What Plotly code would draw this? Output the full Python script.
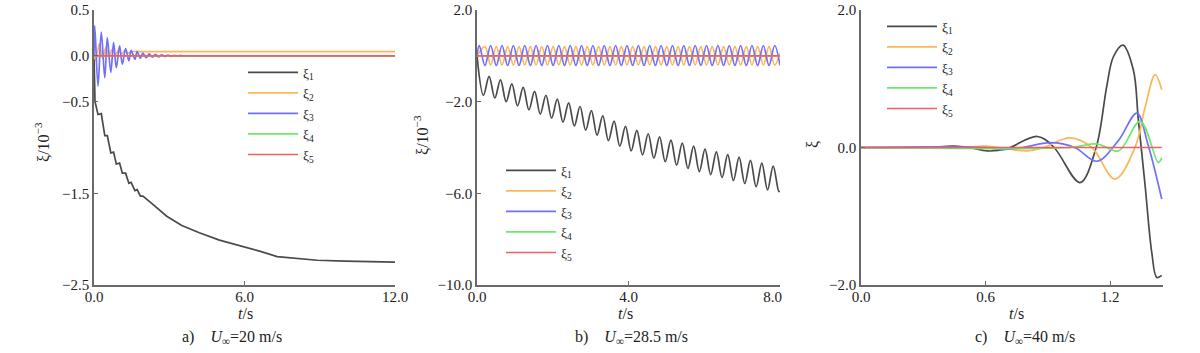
import plotly.graph_objects as go

# ---------------- data: panel a (U=20 m/s) ----------------
a_xi1_t = [0, 0.04, 0.16, 0.29, 0.43, 0.53, 0.67, 0.78, 0.89, 1.02, 1.13, 1.26, 1.39, 1.48,
           1.63, 1.72, 1.85, 1.95, 2.3, 2.9, 3.5, 4.2, 5.0, 6.0, 6.6, 7.3, 8.0, 8.9, 10.0, 11.0, 12.0]
a_xi1_v = [0, -0.50, -0.64, -0.63, -0.87, -0.87, -1.06, -1.05, -1.18, -1.17, -1.28, -1.28, -1.39, -1.38,
           -1.47, -1.46, -1.53, -1.53, -1.61, -1.75, -1.85, -1.93, -2.01, -2.08, -2.13, -2.19, -2.21,
           -2.23, -2.24, -2.245, -2.25]
a_xi2_t = [0, 0.08, 0.21, 0.35, 0.47, 0.60, 0.72, 0.85, 0.97, 1.10, 1.22, 1.35, 1.60, 2.0, 3.0, 12.0]
a_xi2_v = [0, -0.05, 0.13, -0.03, 0.09, 0.0, 0.07, 0.01, 0.06, 0.02, 0.055, 0.03, 0.047, 0.045, 0.045, 0.045]
a_xi3_t = [0, 0.03, 0.16, 0.29, 0.43, 0.53, 0.67, 0.78, 0.89, 1.02, 1.13, 1.26, 1.39, 1.48, 1.63, 1.72,
           1.85, 1.95, 2.08, 2.20, 2.33, 2.45, 2.58, 2.70, 2.83, 2.95, 3.08, 3.20, 3.33, 3.45, 3.60, 4.0, 12.0]
a_xi3_v = [0, 0.33, -0.33, 0.26, -0.24, 0.196, -0.18, 0.147, -0.13, 0.11, -0.09, 0.08, -0.055, 0.06,
           -0.037, 0.045, -0.026, 0.03, -0.02, 0.022, -0.015, 0.016, -0.011, 0.012, -0.008, 0.009,
           -0.006, 0.006, -0.004, 0.004, -0.002, 0, 0]
a_xi4_t = [0, 12.0]
a_xi4_v = [0, 0]
a_xi5_t = [0, 12.0]
a_xi5_v = [0, 0]

# ---------------- data: panel b (U=28.5 m/s) ----------------
b_xi1_trough_t = [0.17, 0.47, 0.77, 1.07, 1.37, 1.67, 1.97, 2.27, 2.57, 2.87, 3.17, 3.47, 3.77, 4.07,
                  4.37, 4.67, 4.97, 5.27, 5.57, 5.87, 6.17, 6.47, 6.77, 7.07, 7.37, 7.67, 7.97]
b_xi1_trough_v = [-1.72, -1.84, -2.00, -2.18, -2.36, -2.54, -2.72, -2.89, -3.06, -3.24, -3.46, -3.70,
                  -3.94, -4.15, -4.32, -4.47, -4.62, -4.77, -4.91, -5.05, -5.18, -5.31, -5.44, -5.57,
                  -5.71, -5.85, -5.92]
b_xi1_peak_t = [0.32, 0.62, 0.92, 1.22, 1.52, 1.82, 2.12, 2.42, 2.72, 3.02, 3.32, 3.62, 3.92, 4.22,
                4.52, 4.82, 5.12, 5.42, 5.72, 6.02, 6.32, 6.62, 6.92, 7.22, 7.52, 7.82]
b_xi1_peak_v = [-0.90, -1.05, -1.22, -1.38, -1.55, -1.72, -1.89, -2.05, -2.21, -2.39, -2.62, -2.85,
                -3.08, -3.25, -3.40, -3.54, -3.68, -3.81, -3.94, -4.07, -4.19, -4.31, -4.42, -4.56,
                -4.68, -4.81]
b_start_t, b_start_v = 0.0, 0.0
b_end_t, b_xi1_end_v = 8.0, -5.90

b_wave_a_t = [0.06, 0.36, 0.66, 0.96, 1.26, 1.56, 1.86, 2.16, 2.46, 2.76, 3.06, 3.36, 3.66, 3.96,
              4.26, 4.56, 4.86, 5.16, 5.46, 5.76, 6.06, 6.36, 6.66, 6.96, 7.26, 7.56, 7.86]
b_wave_b_t = [0.21, 0.51, 0.81, 1.11, 1.41, 1.71, 2.01, 2.31, 2.61, 2.91, 3.21, 3.51, 3.81, 4.11,
              4.41, 4.71, 5.01, 5.31, 5.61, 5.91, 6.21, 6.51, 6.81, 7.11, 7.41, 7.71]
b_xi3_hi = 0.45
b_xi3_lo = -0.42
b_xi2_hi = 0.40
b_xi2_lo = -0.40
b_xi4_t = [0, 8.0]
b_xi4_v = [0, 0]
b_xi5_t = [0, 8.0]
b_xi5_v = [0, 0]

# ---------------- data: panel c (U=40 m/s) ----------------
c_xi1_t = [0, 0.30, 0.45, 0.52, 0.61, 0.70, 0.85, 0.93, 1.055, 1.133, 1.184, 1.216, 1.262, 1.312,
           1.336, 1.369, 1.401, 1.425, 1.449]
c_xi1_v = [0, 0.0, 0.02, 0.0, -0.05, -0.02, 0.16, 0.0, -0.51, 0.0, 0.89, 1.32, 1.49, 1.13,
           0.41, -0.56, -1.53, -1.89, -1.86]
c_xi2_t = [0, 0.50, 0.60, 0.80, 0.88, 1.007, 1.112, 1.224, 1.32, 1.37, 1.417, 1.449]
c_xi2_v = [0, 0, 0.02, -0.05, 0, 0.14, 0, -0.46, 0, 0.60, 1.06, 0.84]
c_xi3_t = [0, 0.60, 0.68, 0.78, 0.911, 1.03, 1.136, 1.24, 1.329, 1.382, 1.449]
c_xi3_v = [0, 0, -0.03, 0, 0.07, 0, -0.20, 0.10, 0.50, 0.05, -0.75]
c_xi4_t = [0, 1.0, 1.14, 1.24, 1.345, 1.433, 1.449]
c_xi4_v = [0, 0, 0.05, -0.05, 0.38, -0.22, -0.15]
c_xi5_t = [0, 1.449]
c_xi5_v = [0, 0]

# tick values / labels
a_xticks = [0, 6, 12]
a_xlabels = ["0.0", "6.0", "12.0"]
a_yticks = [0.5, 0, -0.5, -1.5, -2.5]
b_xticks = [0, 4, 8]
b_xlabels = ["0.0", "4.0", "8.0\u2003"]
b_yticks = [2, -2, -6, -10]
c_xticks = [0, 0.6, 1.2]
c_xlabels = ["0.0", "0.6", "1.2"]
c_yticks = [2, 0, -2]

names = ["ξ<sub>1</sub>", "ξ<sub>2</sub>", "ξ<sub>3</sub>", "ξ<sub>4</sub>", "ξ<sub>5</sub>"]
colors = ["#4a4a4a", "#ffb55a", "#7070ff", "#6ee86e", "#f06060"]

# build wave series for panel b
def merge(pairs):
    pairs = sorted(pairs)
    return [p[0] for p in pairs], [p[1] for p in pairs]

b_xi1_t, b_xi1_v = merge([(b_start_t, b_start_v)] + list(zip(b_xi1_trough_t, b_xi1_trough_v))
                         + list(zip(b_xi1_peak_t, b_xi1_peak_v)) + [(b_end_t, b_xi1_end_v)])
b_xi3_t, b_xi3_v = merge([(b_start_t, b_start_v)] + [(t, b_xi3_hi) for t in b_wave_a_t]
                         + [(t, b_xi3_lo) for t in b_wave_b_t] + [(b_end_t, b_xi3_lo)])
b_xi2_t, b_xi2_v = merge([(b_start_t, b_start_v)] + [(t, b_xi2_lo) for t in b_wave_a_t[1:]]
                         + [(t, b_xi2_hi) for t in b_wave_b_t] + [(b_end_t, 0.1)])

panels = [
    ([(a_xi1_t, a_xi1_v, "linear"), (a_xi2_t, a_xi2_v, "spline"), (a_xi3_t, a_xi3_v, "spline"),
      (a_xi4_t, a_xi4_v, "linear"), (a_xi5_t, a_xi5_v, "linear")], "x", "y", "legend"),
    ([(b_xi1_t, b_xi1_v, "spline"), (b_xi2_t, b_xi2_v, "spline"), (b_xi3_t, b_xi3_v, "spline"),
      (b_xi4_t, b_xi4_v, "linear"), (b_xi5_t, b_xi5_v, "linear")], "x2", "y2", "legend2"),
    ([(c_xi1_t, c_xi1_v, "spline"), (c_xi2_t, c_xi2_v, "spline"), (c_xi3_t, c_xi3_v, "spline"),
      (c_xi4_t, c_xi4_v, "spline"), (c_xi5_t, c_xi5_v, "linear")], "x3", "y3", "legend3"),
]

fig = go.Figure()
for series, xa, ya, lg in panels:
    for i, (t, v, shape) in enumerate(series):
        fig.add_trace(go.Scatter(x=t, y=v, mode="lines", name=names[i], legend=lg,
                                 xaxis=xa, yaxis=ya,
                                 line=dict(color=colors[i], width=1.7, shape=shape, smoothing=1.0)))

W, H = 1200, 353
def px(x):
    return x / W
def py(y):
    return 1 - y / H

SERIF = "Times New Roman, Liberation Serif, serif"
tickfont = dict(family=SERIF, size=15, color="#222")
axis_common = dict(showline=True, linecolor="#6a6a6a", linewidth=1.5, ticks="inside", ticklen=4,
                   tickcolor="#6a6a6a", showgrid=False, zeroline=False, tickfont=tickfont,
                   tickformat=".1f", mirror=False, automargin=False, ticklabeloverflow="allow")
xaxis_common = dict(axis_common, ticklabelstandoff=-3)

fig.update_layout(
    width=W, height=H, margin=dict(l=0, r=0, t=0, b=0, autoexpand=False),
    paper_bgcolor="white", plot_bgcolor="white", showlegend=True,
    font=dict(family=SERIF, size=15, color="#222"),
    xaxis=dict(domain=[px(94), px(395)], range=[0, 12], tickvals=a_xticks, ticktext=a_xlabels,
               anchor="y", **xaxis_common),
    yaxis=dict(domain=[py(285), py(10)], range=[-2.5, 0.5], tickvals=a_yticks, anchor="x", **axis_common),
    xaxis2=dict(domain=[px(477), px(780)], range=[0, 8], tickvals=b_xticks, ticktext=b_xlabels,
                anchor="y2", **xaxis_common),
    yaxis2=dict(domain=[py(285), py(10)], range=[-10, 2], tickvals=b_yticks, anchor="x2", **axis_common),
    xaxis3=dict(domain=[px(861), px(1163)], range=[0, 1.455], tickvals=c_xticks, ticktext=c_xlabels,
                anchor="y3", **xaxis_common),
    yaxis3=dict(domain=[py(285), py(10)], range=[-2, 2], tickvals=c_yticks, anchor="x3", **axis_common),
)

legend_common = dict(bgcolor="rgba(0,0,0,0)", font=dict(family=SERIF, size=13.5, color="#222"),
                     xanchor="left", yanchor="top", tracegroupgap=0, itemwidth=50)
fig.update_layout(
    legend=dict(x=px(243), y=py(57), **legend_common),
    legend2=dict(x=px(501), y=py(155), **legend_common),
    legend3=dict(x=px(882), y=py(11), **legend_common),
)

ann_font = dict(family=SERIF, size=16, color="#222")
anns = [
    ("<i>t</i>/s", 246, 313, 0), ("<i>t</i>/s", 625, 313, 0), ("<i>t</i>/s", 1016, 313, 0),
    ("a)    <i>U</i><sub>∞</sub>=20 m/s", 232, 337, 0),
    ("b)    <i>U</i><sub>∞</sub>=28.5 m/s", 632, 337, 0),
    ("c)    <i>U</i><sub>∞</sub>=40 m/s", 1025, 337, 0),
    ("ξ/10<sup>−3</sup>", 42, 142, -90),
    ("ξ/10<sup>−3</sup>", 421, 135, -90),
    ("ξ", 812, 145, -90),
]
for text, x, y, ang in anns:
    fig.add_annotation(text=text, x=px(x), y=py(y), xref="paper", yref="paper", showarrow=False,
                       textangle=ang, font=ann_font, xanchor="center", yanchor="middle")

# remove the default 8px page margin so the figure sits at the window's top-left corner
fig.write_html("out.html", config={"displayModeBar": False},
               post_script="document.body.style.margin='0';")
